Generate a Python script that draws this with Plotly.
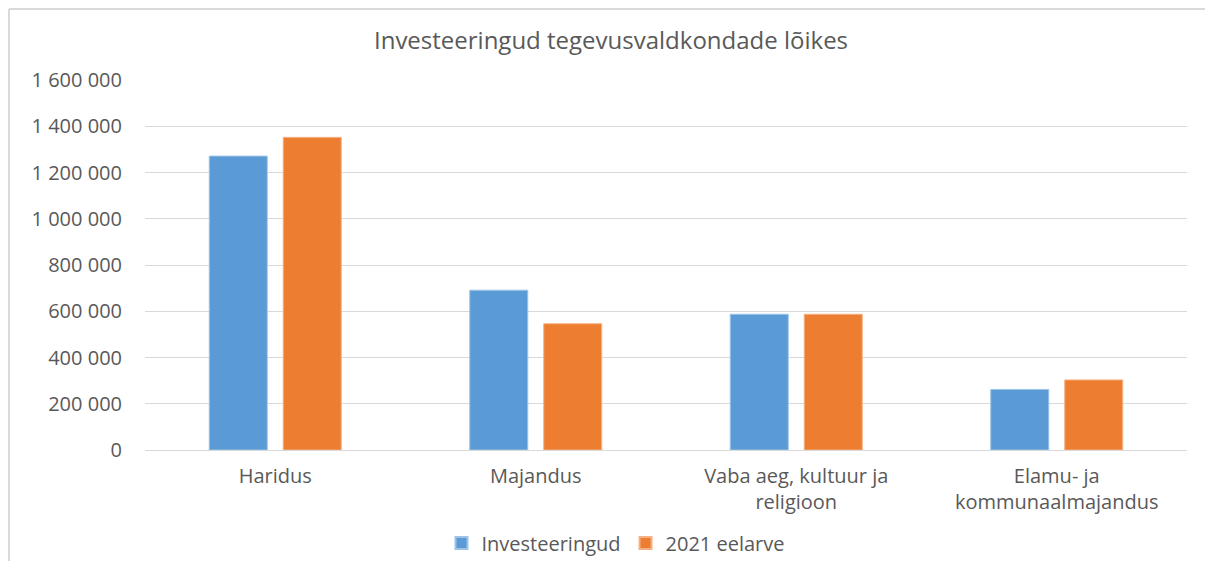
import plotly.graph_objects as go

categories = ["Haridus", "Majandus", "Vaba aeg, kultuur ja<br>religioon", "Elamu- ja<br>kommunaalmajandus"]
investeeringud = [1271000, 691000, 587000, 262000]
eelarve_2021 = [1352000, 546000, 587000, 303000]
tick_vals = [0, 200000, 400000, 600000, 800000, 1000000, 1200000, 1400000, 1600000]

FONT = "Open Sans"
GREY = "#595959"

fig = go.Figure()
fig.add_trace(go.Bar(name="Investeeringud", x=categories, y=investeeringud,
                     marker=dict(color="#5B9BD5", line=dict(color="#9DC3E6", width=1))))
fig.add_trace(go.Bar(name="2021 eelarve", x=categories, y=eelarve_2021,
                     marker=dict(color="#ED7D31", line=dict(color="#F4B183", width=1))))

OFF = 8  # page body margin
W, H = 1213 - 2 * OFF, 569 - 2 * OFF
# plot area in page coordinates: x 145..1187, y 80..450
L = 145 - OFF
T = 80 - OFF
R = W - (1187 - OFF)
B = H - (450 - OFF)
pw, ph = W - L - R, H - T - B

def px(x):
    return (x - OFF - L) / pw

def py(y):
    return (H - B - (y - OFF)) / ph

fig.update_layout(
    width=W, height=H,
    margin=dict(l=L, r=R, t=T, b=B, autoexpand=False),
    paper_bgcolor="white", plot_bgcolor="white",
    separators=". ",
    barmode="group", bargap=0.432, bargroupgap=0.216,
    title=dict(text="Investeeringud tegevusvaldkondade lõikes",
               xref="container", x=(611 - OFF) / W, xanchor="center",
               yref="container", y=1 - (41 - OFF) / H, yanchor="middle",
               font=dict(family=FONT, size=24, color=GREY)),
    font=dict(family=FONT, color=GREY),
    legend=dict(orientation="h", x=px(616), xanchor="center", y=py(543), yanchor="middle",
                font=dict(family=FONT, size=20, color=GREY), itemsizing="constant",
                traceorder="normal"),
    xaxis=dict(showgrid=False, showline=True, linecolor="#d9d9d9", linewidth=1,
               tickfont=dict(family=FONT, size=20, color=GREY), ticks="",
               ticklabelstandoff=8),
    yaxis=dict(range=[0, 1600000], tickvals=tick_vals, tickformat=",d",
               showgrid=True, gridcolor="#d9d9d9", gridwidth=1, zeroline=False,
               showline=False, ticks="", ticklabelstandoff=22,
               tickfont=dict(family=FONT, size=20, color=GREY)),
    shapes=[
        dict(type="line", xref="paper", yref="paper", x0=px(9), x1=px(1213), y0=py(9), y1=py(9),
             line=dict(color="#d9d9d9", width=2)),
        dict(type="line", xref="paper", yref="paper", x0=px(9), x1=px(9), y0=py(9), y1=py(569),
             line=dict(color="#d9d9d9", width=2)),
    ],
)

fig.write_html("out.html")
